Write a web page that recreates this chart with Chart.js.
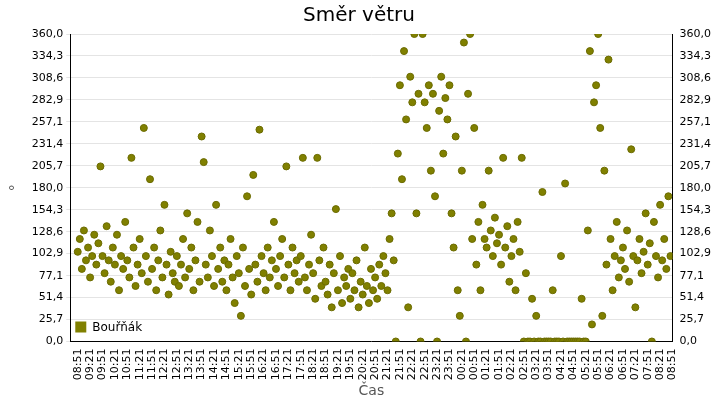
<!DOCTYPE html>
<html>
<head>
<meta charset="utf-8">
<script src="https://cdn.jsdelivr.net/npm/chart.js@4"></script>
<style>
  html, body { margin: 0; padding: 0; background: #fff; }
</style>
</head>
<body>
<canvas id="graf" width="720" height="400"></canvas>
<script>
// Začátek měření a krok mezi vzorky (minuty)
const startHodina = 8
const startMinuta = 51
const krokMinut = 5

// Směr větru po 5 minutách (°)
const smerVetru = [
    105, 120, 85, 130, 95, 110, 75, 100, 125, 90, 115, 205,
    100, 80, 135, 95, 70, 110, 90, 125, 60, 100, 85, 140,
    95, 75, 215, 110, 65, 90, 120, 80, 250, 100, 70, 190,
    85, 110, 60, 95, 130, 75, 160, 90, 55, 105, 80, 70,
    100, 65, 90, 120, 75, 150, 85, 110, 60, 95, 140, 70,
    240, 210, 90, 75, 130, 100, 65, 160, 85, 110, 70, 95,
    60, 90, 120, 75, 45, 100, 80, 30, 110, 65, 170, 85,
    55, 195, 90, 70, 248, 100, 80, 60, 110, 75, 95, 140,
    85, 65, 100, 120, 75, 205, 90, 60, 110, 80, 95, 70,
    100, 215, 75, 60, 90, 125, 80, 50, 215, 95, 65, 110,
    70, 55, 90, 40, 80, 155, 60, 100, 45, 75, 65, 85,
    50, 80, 60, 95, 40, 70, 55, 110, 65, 45, 85, 60,
    75, 50, 90, 65, 100, 80, 60, 120, 150, 95, 0, 220,
    300, 190, 340, 260, 40, 310, 280, 360, 150, 290, 0, 360,
    280, 250, 300, 200, 290, 170, 0, 270, 310, 220, 285, 260,
    300, 150, 110, 240, 60, 30, 200, 350, 0, 290, 360, 120,
    250, 90, 140, 60, 160, 120, 110, 200, 130, 100, 145, 115,
    125, 90, 215, 110, 135, 70, 100, 120, 60, 140, 105, 215,
    0, 80, 0, 0, 50, 0, 30, 0, 0, 175, 0, 0,
    0, 0, 60, 0, 0, 0, 100, 0, 185, 0, 0, 0,
    0, 0, 0, 0, 50, 0, 0, 130, 340, 20, 280, 300,
    360, 250, 30, 200, 90, 330, 120, 60, 100, 140, 75, 95,
    110, 85, 130, 70, 225, 100, 40, 95, 120, 80, 105, 150,
    90, 115, 0, 140, 100, 75, 160, 95, 120, 85, 170, 100,
]

// Popisky osy Y (°) a osy X (minuty od začátku)
const yTicks = [0, 25.7, 51.4, 77.1, 102.9, 128.6, 154.3, 180, 205.7, 231.4, 257.1, 282.9, 308.6, 334.3, 360]
const xTicks = []
for (let m = 0; m <= 1440; m += 30) xTicks.push(m)

const nazevSerie = "Bouřňák"
const barva = "#808000"

function casText(min) {
    const celk = startHodina * 60 + startMinuta + min
    const h = Math.floor(celk / 60) % 24
    const m = celk % 60
    return String(h).padStart(2, "0") + ":" + String(m).padStart(2, "0")
}

const body = smerVetru.map((v, i) => ({x: i * krokMinut, y: v}))

// Legenda uvnitř grafu vlevo dole
const legendaPlugin = {
    id: "legenda",
    afterDraw(chart) {
        const ctx = chart.ctx
        const a = chart.chartArea
        ctx.save()
        ctx.fillStyle = barva
        ctx.fillRect(a.left + 5, a.bottom - 20, 11, 11)
        ctx.fillStyle = "#000"
        ctx.font = "12px 'DejaVu Sans'"
        ctx.textBaseline = "middle"
        ctx.fillText(nazevSerie, a.left + 22, a.bottom - 14)
        ctx.restore()
    }
}

const osaY = (pos) => ({
    type: "linear",
    position: pos,
    min: 0,
    max: 360,
    afterBuildTicks: axis => { axis.ticks = yTicks.map(v => ({value: v})) },
    ticks: {
        color: "#000",
        autoSkip: false,
        font: {size: 11, family: "DejaVu Sans"},
        callback: v => v.toFixed(1).replace(".", ","),
    },
    grid: {display: pos === "left", color: "#e4e4e4", drawTicks: true, tickLength: 4},
    border: {display: true, color: "#000"},
})

const config = {
    type: "scatter",
    data: {
        datasets: [{
            label: nazevSerie,
            data: body,
            backgroundColor: barva,
            borderColor: "#6b6b00",
            borderWidth: 1,
            pointRadius: 3.5,
        }],
    },
    options: {
        responsive: false,
        animation: false,
        layout: {padding: {left: 4, right: 6, top: 0, bottom: 0}},
        plugins: {
            legend: {display: false},
            tooltip: {enabled: false},
            title: {
                display: true,
                text: "Směr větru",
                color: "#000",
                font: {size: 20, family: "DejaVu Sans", weight: "normal"},
                padding: {top: 4, bottom: 6},
            },
        },
        scales: {
            x: {
                type: "linear",
                min: -18,
                max: 1440,
                afterBuildTicks: axis => { axis.ticks = xTicks.map(v => ({value: v})) },
                ticks: {
                    color: "#000",
                    autoSkip: false,
                    minRotation: 90,
                    maxRotation: 90,
                    font: {size: 11, family: "DejaVu Sans"},
                    callback: v => casText(v),
                },
                grid: {display: false, drawTicks: true, tickLength: 4},
                border: {display: true, color: "#000"},
                title: {display: true, text: "Čas", color: "#555", font: {size: 14, family: "DejaVu Sans"}, padding: 0},
            },
            y: Object.assign(osaY("left"), {
                title: {display: true, text: "°", color: "#555", font: {size: 14, family: "DejaVu Sans"}},
            }),
            y2: osaY("right"),
        },
    },
    plugins: [legendaPlugin],
}

// eslint-disable-next-line no-undef
const graf = new Chart(document.querySelector("#graf"), config)
</script>
</body>
</html>
